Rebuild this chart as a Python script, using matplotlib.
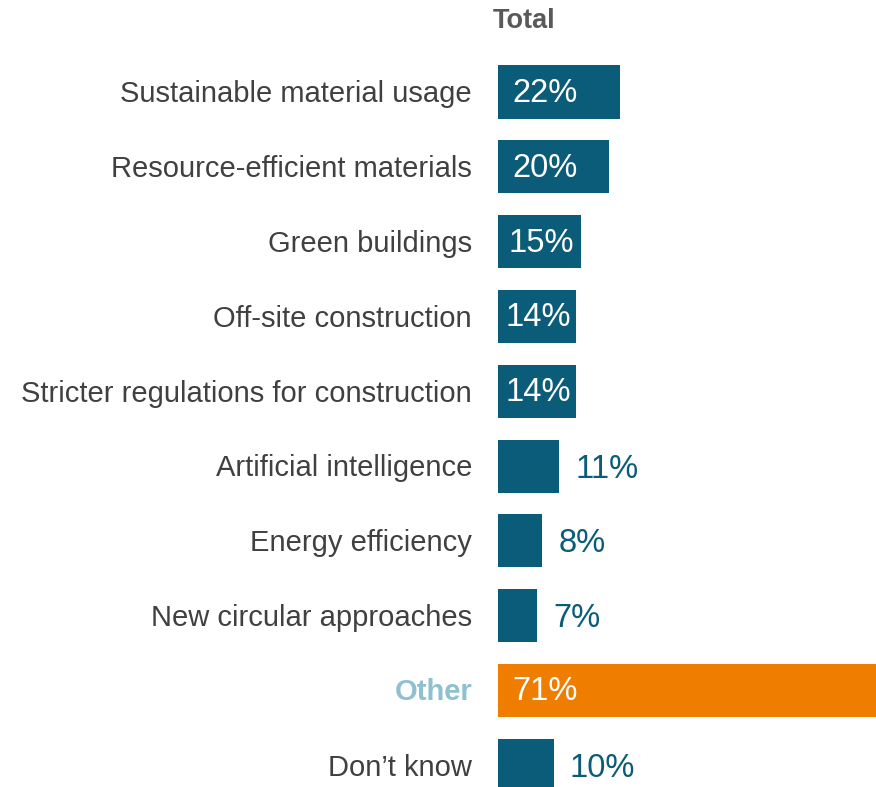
import matplotlib.pyplot as plt
from matplotlib import transforms

plt.rcParams['font.family'] = ['Liberation Sans', 'DejaVu Sans']

# Survey answers, top to bottom
categories = [
    "Sustainable material usage",
    "Resource-efficient materials",
    "Green buildings",
    "Off-site construction",
    "Stricter regulations for construction",
    "Artificial intelligence",
    "Energy efficiency",
    "New circular approaches",
    "Other",
    "Don\u2019t know",
]
values = [22, 20, 15, 14, 14, 11, 8, 7, 71, 10]
highlight = "Other"

teal = "#0b5c79"
orange = "#ef7d00"
text_grey = "#404040"

fig = plt.figure(figsize=(8.76, 7.87), dpi=100)
ax = fig.add_axes([498 / 876, 0, 1 - 498 / 876, 1])

rows = list(range(len(categories)))
colors = [orange if c == highlight else teal for c in categories]
ax.barh(rows, values, height=0.71, color=colors)

ax.set_xlim(0, 68)
ax.set_ylim(9.29, -1.23)
ax.axis("off")

# category names sit to the left of the bars
label_trans = transforms.blended_transform_factory(fig.transFigure, ax.transData)
for i, (cat, val) in enumerate(zip(categories, values)):
    if cat == highlight:
        ax.text(472 / 876, i + 0.02, cat, transform=label_trans, ha="right", va="center",
                fontsize=21, fontweight="bold", color="#8fc0d0")
    else:
        ax.text(472 / 876, i + 0.03, cat, transform=label_trans, ha="right", va="center",
                fontsize=21, color=text_grey)

    # values: white inside wide bars, teal outside narrow ones
    if val >= 14:
        ax.text(min(8.5, val * 0.52), i + 0.02, f"{val}%", ha="center", va="center",
                fontsize=23.5, color="white")
    else:
        ax.text(val + 2.9, i + 0.04, f"{val}%", ha="left", va="center",
                fontsize=23.5, color=teal)

fig.text(524.5 / 876, 1 - 21 / 787, "Total", ha="center", va="center",
         fontsize=19.5, fontweight="bold", color="#595959")

fig.savefig("out.png", dpi=100)
